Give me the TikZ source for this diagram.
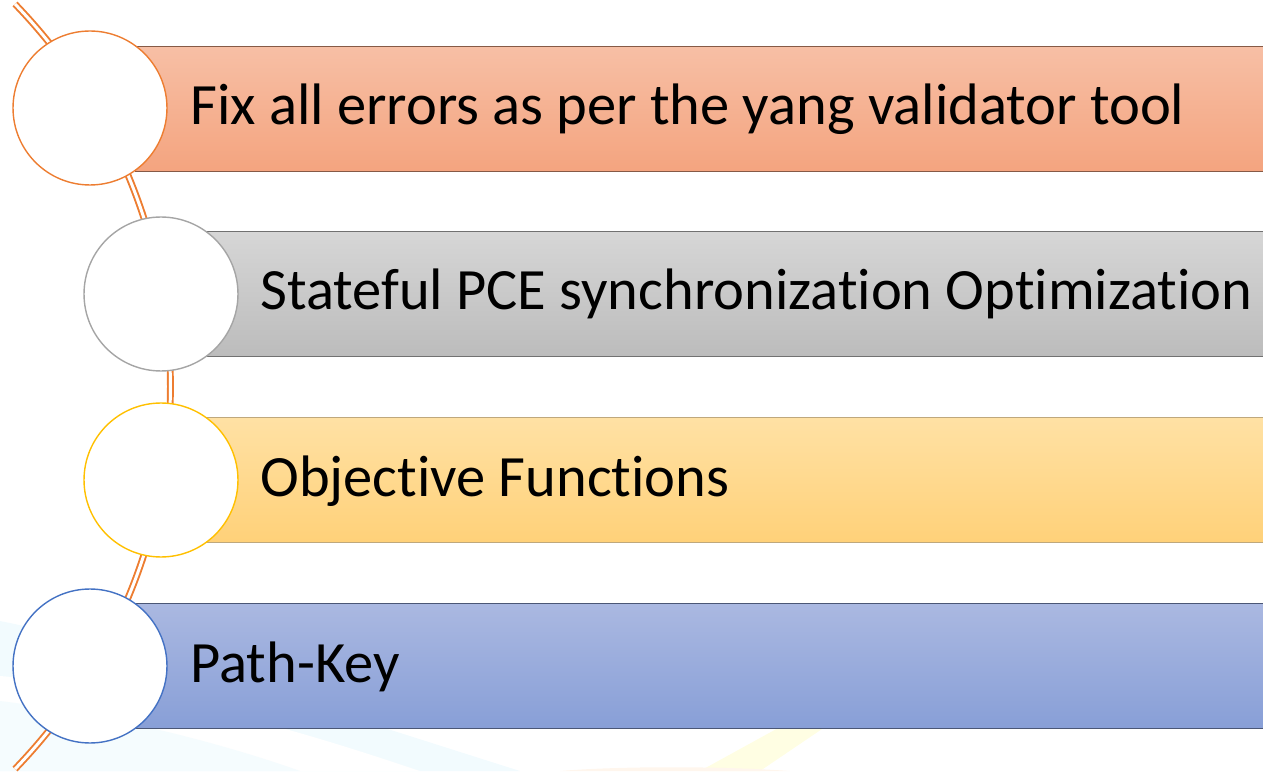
\documentclass[tikz,border=0pt]{standalone}
\usepackage{fontspec}
\setmainfont{Carlito}[Ligatures=NoCommon]
\usetikzlibrary{positioning}

\definecolor{salmontop}{HTML}{F7BFA5}
\definecolor{salmonbot}{HTML}{F4A47F}
\definecolor{greytop}{HTML}{D6D6D6}
\definecolor{greybot}{HTML}{BCBCBC}
\definecolor{goldtop}{HTML}{FFE1A4}
\definecolor{goldbot}{HTML}{FFD179}
\definecolor{bluetop}{HTML}{AAB8E1}
\definecolor{bluebot}{HTML}{889FD7}
\definecolor{ringorange}{HTML}{ED7D31}
\definecolor{ringgrey}{HTML}{A5A5A5}
\definecolor{ringgold}{HTML}{FFC000}
\definecolor{ringblue}{HTML}{4472C4}

\begin{document}
\begin{tikzpicture}[x=0.02cm, y=0.02cm,
        bar_style/.style={anchor=west, inner sep=0, minimum width=22.7cm, minimum height=2.48cm},
        edge_style/.style={line width=0.8pt},
        ring_style/.style={circle, fill=white, line width=0.8pt, minimum size=3.08cm, inner sep=0},
        label_style/.style={anchor=base west, inner sep=0, font=\fontsize{33.3}{40}\selectfont},
        spine_style/.style={draw=ringorange, line width=1.1pt, double=white, double distance=1.7pt}]

        \useasboundingbox (0,0) rectangle (1263,771);

        % faint background swooshes
        \fill[cyan!5] (0,150) .. controls (150,120) and (330,60) .. (520,0) -- (0,0) -- cycle;
        \fill[white] (0,95) .. controls (180,80) and (330,30) .. (420,0) -- (0,0) -- cycle;
        \fill[cyan!4] (0,70) .. controls (120,55) and (230,25) .. (300,0) -- (0,0) -- cycle;
        \fill[yellow!11] (700,0) -- (760,0) -- (825,44) -- (780,44) -- cycle;
        \fill[orange!7] (560,0) .. controls (620,5) and (720,5) .. (790,0) -- cycle;

        % bars
        \node [bar_style, top color=salmontop, bottom color=salmonbot] (b1) at (135,662) {};
        \node [bar_style, top color=greytop, bottom color=greybot] (b2) at (206,477) {};
        \node [bar_style, top color=goldtop, bottom color=goldbot] (b3) at (206,291) {};
        \node [bar_style, top color=bluetop, bottom color=bluebot] (b4) at (135,105) {};

        \foreach \b/\c in {b1/salmonbot!55!black, b2/greybot!60!black, b3/goldbot!50!gray, b4/bluebot!55!black} {
            \draw [edge_style, draw=\c] (\b.north west) -- (\b.north east);
            \draw [edge_style, draw=\c] (\b.south west) -- (\b.south east);
        }

        % orange spine behind the rings
        \coordinate (top) at (15,767);
        \coordinate (bottom) at (15,2);
        \draw [spine_style] (top) to[bend left=44] (bottom);

        % rings
        \node [ring_style, draw=ringorange] (n1) at (90,663) {};
        \node [ring_style, draw=ringgrey] (n2) at (161,477) {};
        \node [ring_style, draw=ringgold] (n3) at (161,291) {};
        \node [ring_style, draw=ringblue] (n4) at (90,105) {};

        % labels
        \node [label_style] (t1) at (190,646) {Fix all errors as per the yang validator tool};
        \node [label_style] (t2) at (260,461) {Stateful PCE synchronization Optimization};
        \node [label_style] (t3) at (260,275) {Objective Functions};
        \node [label_style] (t4) at (190,89) {Path-Key};

\end{tikzpicture}
\end{document}
